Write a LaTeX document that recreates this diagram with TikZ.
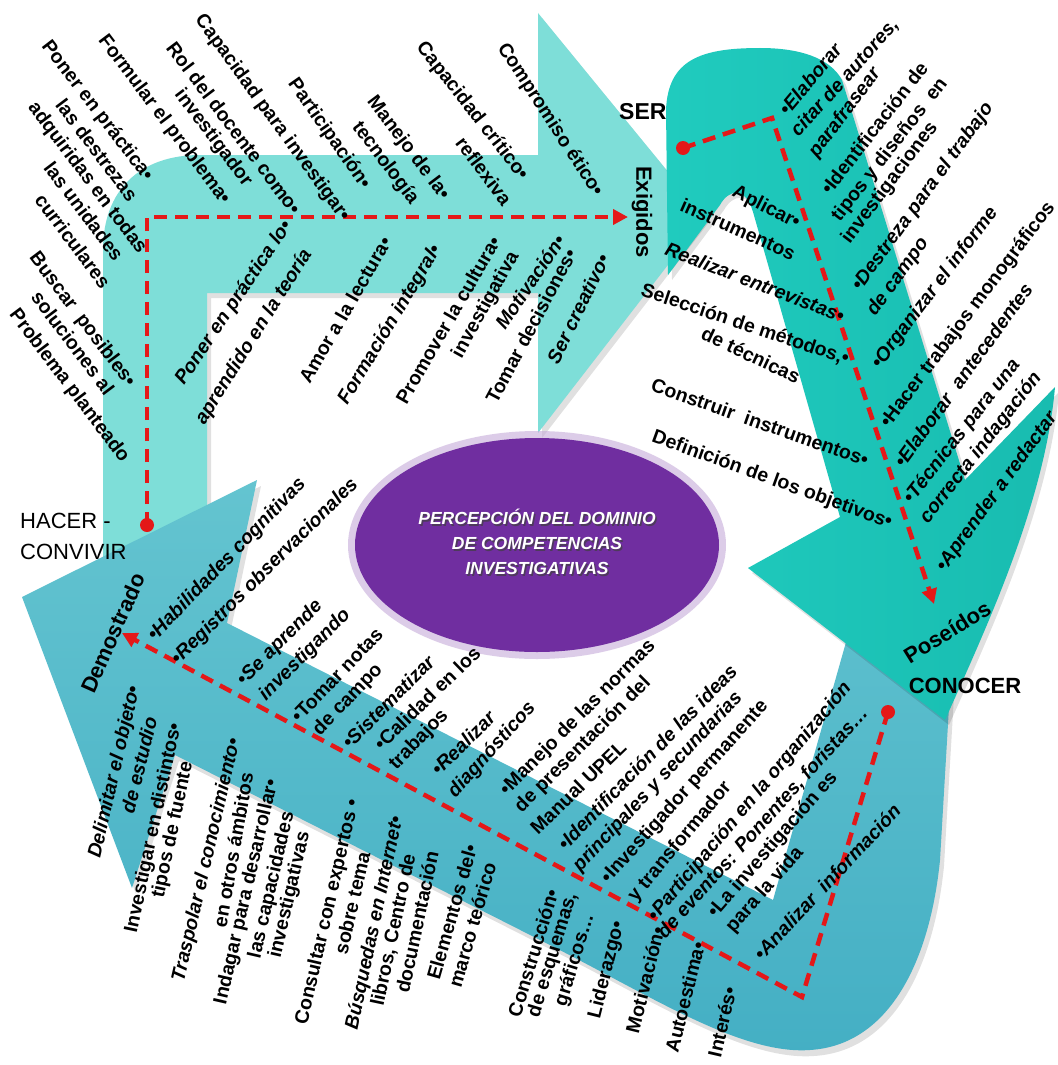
\documentclass[tikz,border=0pt]{standalone}
\usepackage{fontspec}
\setmainfont{Liberation Sans}
\usetikzlibrary{arrows.meta,shapes.geometric}
\definecolor{lightcy}{RGB}{126,222,216}
\definecolor{tealb}{RGB}{32,203,190}
\definecolor{tealc}{RGB}{24,188,176}
\definecolor{steel}{RGB}{68,175,196}
\definecolor{steell}{RGB}{100,196,208}
\definecolor{purp}{RGB}{112,46,160}
\definecolor{redd}{RGB}{228,24,24}
\tikzset{
  lab/.style={font=\fontsize{19.5}{23}\selectfont\bfseries, inner sep=0pt},
  labi/.style={font=\fontsize{19.5}{23}\selectfont\bfseries\itshape, inner sep=0pt},
  big/.style={font=\fontsize{22}{31}\selectfont, inner sep=0pt},
  bigb/.style={font=\fontsize{22}{26}\selectfont\bfseries, inner sep=0pt},
  reddash/.style={draw=redd, line width=4.5pt, dash pattern=on 13pt off 8pt},
  redtip/.style={-{Triangle[length=15pt,width=15pt]}},
  reddot/.style={circle, fill=redd, minimum size=14pt, inner sep=0pt},
  ptext/.style={font=\fontsize{17.5}{25}\selectfont\bfseries\itshape, align=center, inner sep=0pt},
  shadowed/.style={fill=black, opacity=0.12},
}
\newcommand\lb[5]{\node[#1,rotate=#4] (#2) at (#3) {#5};}
\newcommand\toparrowpath{(103,565) -- (103,250) .. controls (103,190) and (140,155) .. (200,155)
  -- (538,155) -- (538,13) -- (705,217) -- (538,433) -- (538,293) -- (207,293) -- (207,515) -- cycle}
\newcommand\bottomarrowpath{(257,480) -- (22,597) -- (132,888) -- (175,755) -- (540,940)
  .. controls (650,995) and (740,1055) .. (810,1050)
  .. controls (890,1045) and (930,960) .. (940,860)
  -- (950,690) -- (850,628) -- (773,900) -- (227,623) -- cycle}
\newcommand\tealarrowpath{(668,275) -- (666,110) .. controls (668,60) and (700,48) .. (760,48)
  .. controls (800,48) and (830,58) .. (842,80) -- (965,480) -- (1055,387)
  .. controls (1045,500) and (990,620) .. (945,720) -- (748,568) -- (840,517)
  -- (753,212) .. controls (745,185) and (728,190) .. (720,205) -- cycle}
\begin{document}
\begin{tikzpicture}[x=1pt,y=-1pt]
\useasboundingbox (0,0) rectangle (1057,1065);
\fill[white] (0,0) rectangle (1057,1065);

% top light arrow (HACER -> SER)
\fill[shadowed, shift={(4,5)}] \toparrowpath;
\fill[lightcy] \toparrowpath;

% bottom U arrow (CONOCER -> HACER)
\fill[shadowed, shift={(4,6)}] \bottomarrowpath;
\shade[top color=steell, bottom color=steel] \bottomarrowpath;

% teal arrow (SER -> CONOCER)
\fill[shadowed, shift={(4,5)}] \tealarrowpath;
\shade[left color=tealb, right color=tealc] \tealarrowpath;

% central ellipse
\node[ellipse, fill=purp!40, opacity=0.6, minimum width=378pt, minimum height=228pt, inner sep=0pt] (glow) at (537,545) {};
\node[ellipse, fill=purp, minimum width=364pt, minimum height=214pt, inner sep=0pt] (core) at (537,545) {};
\node[ptext, text=black!75, opacity=0.7] (titlesh) at (538.5,543.5) {PERCEPCIÓN DEL DOMINIO\\DE COMPETENCIAS\\INVESTIGATIVAS};
\node[ptext, text=white] (title) at (537,542) {PERCEPCIÓN DEL DOMINIO\\DE COMPETENCIAS\\INVESTIGATIVAS};

% red dashed paths
\node[reddot] (d1) at (147,525) {};
\coordinate (c1) at (147,217);
\coordinate (e1) at (628,217);
\draw[reddash, redtip] (d1.center) -- (c1) -- (e1);
\node[reddot] (d2) at (683,148) {};
\coordinate (c2) at (772,118);
\coordinate (e2) at (934,604);
\draw[reddash, redtip] (d2.center) -- (c2) -- (e2);
\node[reddot] (d3) at (888,712) {};
\coordinate (c3) at (802,997);
\coordinate (e3) at (122,633);
\draw[reddash, redtip] (d3.center) -- (c3) -- (e3);

% main labels
\node[big, align=left, anchor=west] (hacer) at (20,536) {HACER -\\CONVIVIR};
\node[font=\fontsize{23}{26}\selectfont\bfseries, inner sep=0pt, anchor=west] (ser) at (619,112) {SER};
\node[bigb] (conocer) at (965,686) {CONOCER};
\lb{bigb}{exig}{642,212}{-90}{Exigidos}
\lb{bigb}{poseidos}{947,632}{32}{Poseídos}
\lb{bigb}{demostrado}{113,633}{66}{Demostrado}

% top-left group
\lb{lab}{t1}{97,111}{-52.5}{Poner en práctica•}
\lb{lab}{t2}{97,150}{-53}{las destrezas}
\lb{lab}{t3}{87,178}{-53}{adquiridas en todas}
\lb{lab}{t4}{84,211}{-53}{las unidades}
\lb{lab}{t5}{73,241}{-53}{curriculares}
\lb{lab}{t6}{164,120}{-53}{Formular el problema•}
\lb{lab}{t7}{234,128}{-53}{Rol del docente como•}
\lb{lab}{t8}{213,138}{-53}{investigador}
\lb{lab}{t9}{272,118}{-54}{Capacidad para investigar•}
\lb{lab}{t10}{329,134}{-55}{Participación•}
\lb{lab}{t11}{82,320}{-53}{Buscar\ \ posibles•}
\lb{lab}{t12}{73,343}{-53}{soluciones al}
\lb{lab}{t13}{69,386}{-53}{Problema planteado}
\lb{labi}{t14}{234,303}{56}{Poner en práctica lo•}
\lb{labi}{t15}{254,337}{58}{aprendido en la teoría}
\lb{lab}{t16}{345,310}{60}{Amor a la lectura•}
\lb{lab}{t17}{408,148}{-53}{Manejo de la•}
\lb{lab}{t18}{385,163}{-53}{tecnología}
\lb{lab}{t19}{472,111}{-52}{Capacidad crítico•}
\lb{lab}{t20}{484,171}{-53}{reflexiva}
\lb{lab}{t21}{550,120}{-57}{Compromiso ético•}
\lb{labi}{t22}{390,325}{59}{Formación integral•}
\lb{lab}{t23}{448,320}{60}{Promover la cultura•}
\lb{lab}{t24}{486,305}{61}{investigativa}
\lb{labi}{t25}{530,282}{56}{Motivación•}
\lb{lab}{t26}{531,326}{62}{Tomar decisiones•}
\lb{labi}{t27}{578,309}{64}{Ser creativo•}

% teal right group
\lb{labi}{t28}{810,79}{50}{•Elaborar}
\lb{labi}{t29}{845,78}{48}{citar de autores,}
\lb{labi}{t30}{845,113}{53}{parafrasear}
\lb{lab}{t31}{874,128}{52}{•Identificación de}
\lb{lab}{t32}{890,150}{52}{tipos y diseños\ \ en}
\lb{lab}{t33}{890,183}{53}{investigaciones}
\lb{labi}{t34}{923,197}{54}{•Destreza para el trabajo}
\lb{labi}{t35}{898,277}{54}{de campo}
\lb{labi}{t36}{935,288}{53}{•Organizar el informe}
\lb{lab}{t37}{968,315}{53}{•Hacer trabajos monográficos}
\lb{labi}{t38}{963,375}{54}{•Elaborar\ \ antecedentes}
\lb{labi}{t39}{962,432}{52}{•Técnicas para una}
\lb{labi}{t40}{981,448}{52}{correcta indagación}
\lb{labi}{t41}{997,492}{54}{•Aprender a redactar}

% teal left group
\lb{lab}{t42}{766,208}{-27}{Aplicar•}
\lb{lab}{t43}{738,229}{-24}{instrumentos}
\lb{labi}{t44}{755,282}{-21}{Realizar entrevistas•}
\lb{lab}{t45}{745,325}{-18.6}{Selección de métodos,•}
\lb{lab}{t46}{751,355}{-25}{de técnicas}
\lb{lab}{t47}{760,422}{-19.5}{Construir\ \ instrumentos•}
\lb{lab}{t48}{772,480}{-20}{Definición de los objetivos•}

% bottom band group
\lb{labi}{t49}{227,560}{46}{•Habilidades cognitivas}
\lb{labi}{t50}{265,572}{45}{•Registros observacionales}
\lb{labi}{t51}{280,643}{45}{•Se aprende}
\lb{labi}{t52}{305,655}{45}{investigando}
\lb{lab}{t53}{337,675}{46}{•Tomar notas}
\lb{lab}{t54}{348,700}{46}{de campo}
\lb{labi}{t55}{388,702}{45}{•Sistematizar}
\lb{lab}{t56}{427,698}{44}{•Calidad en los}
\lb{lab}{t57}{419,740}{46}{trabajos}
\lb{labi}{t58}{463,743}{45}{•Realizar}
\lb{labi}{t59}{492,750}{48}{diagnósticos}
\lb{lab}{t60}{578,718}{45}{•Manejo de las normas}
\lb{lab}{t61}{583,745}{45}{de presentación del}
\lb{lab}{t62}{578,787}{44}{Manual UPEL}
\lb{labi}{t63}{647,757}{46}{•Identificación de las ideas}
\lb{labi}{t64}{658,782}{47}{principales y secundarias}
\lb{lab}{t65}{685,792}{48}{•Investigador permanente}
\lb{lab}{t66}{680,842}{50}{y transformador}
\lb{labi}{t67}{750,802}{50}{•Participación en la organización}
\lb{labi}{t68}{763,823}{48}{de eventos: Ponentes, foristas…}
\lb{lab}{t69}{773,845}{49}{•La investigación es}
\lb{lab}{t70}{765,890}{49}{para la vida}
\lb{labi}{t71}{827,882}{47}{•Analizar\ \ información}

% steep group below band
\lb{labi}{t72}{115,772}{77}{Delimitar el objeto•}
\lb{labi}{t73}{139,765}{76}{de estudio}
\lb{lab}{t74}{154,828}{78}{Investigar en distintos•}
\lb{lab}{t75}{173,830}{78}{tipos de fuente}
\lb{labi}{t76}{207,860}{77}{Traspolar el conocimiento•}
\lb{lab}{t77}{233,850}{80}{en otros ámbitos}
\lb{lab}{t78}{247,892}{77}{Indagar para desarrollar•}
\lb{lab}{t79}{272,885}{77}{las capacidades}
\lb{lab}{t80}{290,895}{77}{investigativas}
\lb{lab}{t81}{328,912}{77}{Consultar con expertos •}
\lb{lab}{t82}{352,903}{77}{sobre tema}
\lb{labi}{t83}{375,923}{78}{Búsquedas en Internet•}
\lb{lab}{t84}{394,930}{78}{libros, Centro de}
\lb{lab}{t85}{417,922}{78}{documentación}
\lb{lab}{t86}{452,912}{74}{Elementos del•}
\lb{lab}{t87}{472,925}{74}{marco teórico}
\lb{lab}{t88}{533,953}{73}{Construcción•}
\lb{lab}{t89}{553,955}{73}{de esquemas,}
\lb{lab}{t90}{575,960}{73}{gráficos…}
\lb{lab}{t91}{607,970}{76}{Liderazgo•}
\lb{lab}{t92}{645,980}{76}{Motivación•}
\lb{lab}{t93}{685,997}{76}{Autoestima•}
\lb{lab}{t94}{722,1022}{77}{Interés•}
\end{tikzpicture}
\end{document}
